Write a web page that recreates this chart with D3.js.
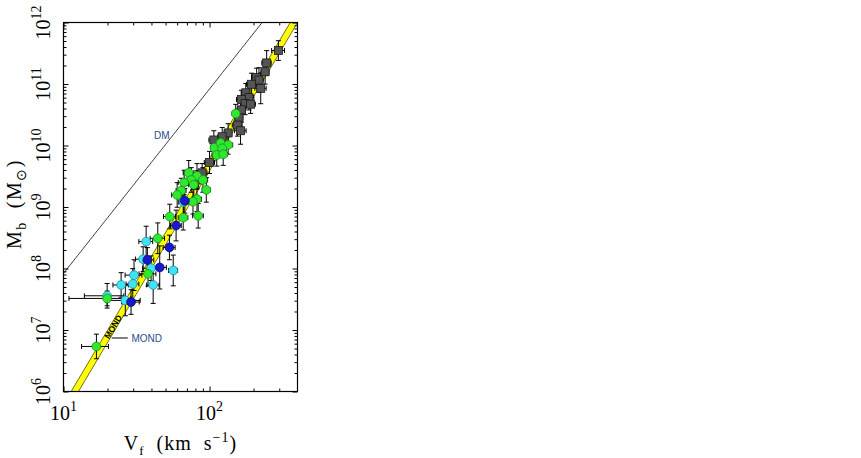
<!DOCTYPE html>
<html>
<head>
<meta charset="utf-8">
<script src="https://cdn.jsdelivr.net/npm/d3@7"></script>
<style>
html,body{margin:0;padding:0;background:#fff;}
svg{display:block;}
</style>
</head>
<body>
<svg id="chart" width="861" height="458"></svg>
<script>
// ---------- data ----------
const xMajorTicks = [10, 100];
const xTickExp = ["1", "2"];
const yMajorTicks = [1e6, 1e7, 1e8, 1e9, 1e10, 1e11, 1e12];
const yTickExp = ["6", "7", "8", "9", "10", "11", "12"];

// grey squares
const sqV   = [296,246,240,210,218,194,224,177,186,165,175,191,165,159,155,134,122,163,107,100,89,82];
const sqM   = [3.5e11,2.2e11,1.58e11,1.28e11,1.16e11,9.9e10,8.5e10,7.2e10,6.0e10,5.6e10,4.8e10,4.7e10,3.8e10,2.8e10,2.15e10,1.6e10,1.39e10,1.74e10,1.23e10,5.3e9,3.6e9,2.75e9];
const sqEV  = [30,18,15,15,15,15,20,12,15,12,12,15,10,10,12,8,8,15,8,8,7,6];
const sqEM  = [0.16,0.2,0.2,0.15,0.2,0.18,0.25,0.15,0.2,0.15,0.18,0.15,0.2,0.15,0.18,0.15,0.15,0.22,0.15,0.18,0.15,0.15];

// green circles
const grV  = [151,108,119,134,122,112,124,72,82,75,90,67,78,64,60,95,82,77,53.4,66,83.6,44.2,37.9,19.9,16.8];
const grM  = [3.3e10,9.2e9,1.1e10,1.02e10,9.0e9,7.0e9,7.2e9,3.6e9,3.2e9,2.75e9,2.75e9,2.5e9,2.3e9,1.85e9,1.57e9,1.9e9,1.34e9,1.22e9,7.0e8,6.7e8,7.2e8,3.1e8,8.2e7,3.26e7,5.4e6];
const grEV = [8,6,8,10,8,8,8,6,6,6,7,6,6,5,5,6,6,6,5,5,7,5,5,9,3.5];
const grEM = [0.15,0.15,0.15,0.15,0.15,0.18,0.18,0.2,0.2,0.2,0.2,0.2,0.2,0.2,0.2,0.2,0.2,0.2,0.2,0.2,0.2,0.25,0.2,0.12,0.2];

// cyan circles
const cyV  = [66.5,36.8,35.1,39.8,56.4,30.4,24.8,29.8,41.1,19.9,26.5];
const cyM  = [1.2e9,2.74e8,1.42e8,1.01e8,9.3e7,7.8e7,5.4e7,5.6e7,5.4e7,3.6e7,3.03e7];
const cyEV = [5,4,4,5,4,4,3,3,4,6,7];
const cyEM = [0.2,0.25,0.2,0.2,0.25,0.25,0.2,0.25,0.3,0.2,0.25];

// blue circles
const blV  = [67.7,59,53.1,37.5,45.6,29];
const blM  = [1.26e9,5.0e8,2.2e8,1.38e8,1.04e8,2.85e7];
const blEV = [5,5,5,4,5,4];
const blEM = [0.2,0.25,0.2,0.2,0.35,0.2];

// model relations: log M = slope*log V + intercept
const dmSlope = 3, dmIntercept = 4.92;
const mondSlope = 4, mondIntercept = 1.69, mondHalfWidth = 0.1;

// ---------- layout ----------
const svg = d3.select("#chart");
const L = 63.5, R = 297.5, T = 22.5, B = 391.5;
const x = d3.scaleLog().domain([10, 400]).range([L, R]);
const y = d3.scaleLog().domain([1e6, 1e12]).range([B, T]);

svg.append("defs").append("clipPath").attr("id","clip")
  .append("rect").attr("x",L).attr("y",T).attr("width",R-L).attr("height",B-T);

const plot = svg.append("g").attr("clip-path","url(#clip)");

// DM line
const vLine = d3.range(0, 201).map(i => Math.pow(10, 1 + i*(Math.log10(400)-1)/200));
plot.append("path")
  .attr("d", d3.line().x(v => x(v)).y(v => y(Math.pow(10, dmSlope*Math.log10(v)+dmIntercept)))(vLine))
  .attr("fill","none").attr("stroke","#000").attr("stroke-width",0.8);

// MOND band
const bandUpper = vLine.map(v => [x(v), y(Math.pow(10, mondSlope*Math.log10(v)+mondIntercept+mondHalfWidth))]);
const bandLower = vLine.map(v => [x(v), y(Math.pow(10, mondSlope*Math.log10(v)+mondIntercept-mondHalfWidth))]).reverse();
plot.append("path")
  .attr("d", d3.line()(bandUpper.concat(bandLower)) + "Z")
  .attr("fill","#ffff00").attr("stroke","#2a2a00").attr("stroke-width",0.7);

// text inside band
{
  const vT = Math.pow(10, 1.34);
  const mT = Math.pow(10, mondSlope*Math.log10(vT)+mondIntercept);
  const a2 = Math.atan((y(1)-y(1e4))/(x(100)-x(10))) * 180/Math.PI;
  plot.append("text")
    .attr("transform", `translate(${x(vT)},${y(mT)}) rotate(${-a2})`)
    .attr("text-anchor","middle").attr("dy","0.35em")
    .attr("font-family","Liberation Sans, Arial, sans-serif")
    .attr("font-size",8.5).attr("font-weight","bold").attr("fill","#000")
    .text("MOND");
}

// error bars
const groups = [
  {V:sqV, M:sqM, EV:sqEV, EM:sqEM, type:"square", fill:"#555555", stroke:"#1a1a1a"},
  {V:cyV, M:cyM, EV:cyEV, EM:cyEM, type:"circle", fill:"#3fe3f3", stroke:"#1790a0"},
  {V:grV, M:grM, EV:grEV, EM:grEM, type:"circle", fill:"#2fe82f", stroke:"#169616"},
  {V:blV, M:blM, EV:blEV, EM:blEM, type:"circle", fill:"#1818cc", stroke:"#08087a"}
];
const eb = plot.append("g").attr("stroke","#000").attr("stroke-width",1).attr("fill","none");
const cap = 2.5;
groups.forEach(g => {
  g.V.forEach((v, i) => {
    const m = g.M[i], ev = g.EV[i], em = g.EM[i];
    const px = x(v), py = y(m);
    const y1 = y(m*Math.pow(10,-em)), y2 = y(m*Math.pow(10,em));
    const x1 = x(v-ev), x2 = x(v+ev);
    eb.append("line").attr("x1",px).attr("x2",px).attr("y1",y1).attr("y2",y2);
    eb.append("line").attr("x1",px-cap).attr("x2",px+cap).attr("y1",y1).attr("y2",y1);
    eb.append("line").attr("x1",px-cap).attr("x2",px+cap).attr("y1",y2).attr("y2",y2);
    eb.append("line").attr("x1",x1).attr("x2",x2).attr("y1",py).attr("y2",py);
    eb.append("line").attr("x1",x1).attr("x2",x1).attr("y1",py-cap).attr("y2",py+cap);
    eb.append("line").attr("x1",x2).attr("x2",x2).attr("y1",py-cap).attr("y2",py+cap);
  });
});

// markers
groups.forEach(g => {
  const data = g.V.map((v,i) => ({v, m:g.M[i]}));
  if (g.type === "square") {
    plot.append("g").selectAll("rect").data(data).join("rect")
      .attr("x", d => x(d.v)-4).attr("y", d => y(d.m)-4)
      .attr("width",8).attr("height",8)
      .attr("fill",g.fill).attr("stroke",g.stroke).attr("stroke-width",0.8);
  } else {
    plot.append("g").selectAll("circle").data(data).join("circle")
      .attr("cx", d => x(d.v)).attr("cy", d => y(d.m)).attr("r",4.4)
      .attr("fill",g.fill).attr("stroke",g.stroke).attr("stroke-width",0.8);
  }
});

// ---------- axes ----------
const xMinor = [20,30,40,50,60,70,80,90,200,300];
const yMinor = [];
for (let e = 6; e < 12; e++) for (let k = 2; k <= 9; k++) yMinor.push(k*Math.pow(10,e));

function addAxis(axisFn, scale, vals, size, transform) {
  const g = svg.append("g").attr("transform", transform)
    .call(axisFn(scale).tickValues(vals).tickSize(-size).tickFormat(""));
  g.select(".domain").remove();
  g.selectAll("line").attr("stroke","#000").attr("stroke-width",1);
}
addAxis(d3.axisBottom, x, xMajorTicks, 5, `translate(0,${B})`);
addAxis(d3.axisBottom, x, xMinor, 3, `translate(0,${B})`);
addAxis(d3.axisTop, x, xMajorTicks, 5, `translate(0,${T})`);
addAxis(d3.axisTop, x, xMinor, 3, `translate(0,${T})`);
addAxis(d3.axisLeft, y, yMajorTicks, 5, `translate(${L},0)`);
addAxis(d3.axisLeft, y, yMinor, 3, `translate(${L},0)`);
addAxis(d3.axisRight, y, yMajorTicks, 5, `translate(${R},0)`);
addAxis(d3.axisRight, y, yMinor, 3, `translate(${R},0)`);

svg.append("rect").attr("x",L).attr("y",T).attr("width",R-L).attr("height",B-T)
  .attr("fill","none").attr("stroke","#000").attr("stroke-width",1.2);

const serif = "Liberation Serif, Times New Roman, serif";

// x tick labels
xMajorTicks.forEach((t,i) => {
  const tx = svg.append("text").attr("x", x(t)).attr("y", 420)
    .attr("text-anchor","middle").attr("font-family",serif).attr("font-size",20).attr("fill","#000");
  tx.append("tspan").text("10");
  tx.append("tspan").attr("dy",-9).attr("font-size",14).text(xTickExp[i]);
});

// y tick labels (rotated)
yMajorTicks.forEach((t,i) => {
  const ty = svg.append("text")
    .attr("transform", `translate(50,${y(t)}) rotate(-90)`)
    .attr("text-anchor","middle").attr("font-family",serif).attr("font-size",20).attr("fill","#000");
  ty.append("tspan").text("10");
  ty.append("tspan").attr("dy",-9).attr("font-size",14).text(yTickExp[i]);
});

// x title
{
  const t = svg.append("text").attr("x",(L+R)/2).attr("y",450)
    .attr("text-anchor","middle").attr("font-family",serif).attr("font-size",20).attr("fill","#000")
    .attr("letter-spacing",1).attr("xml:space","preserve");
  t.append("tspan").text("V");
  t.append("tspan").attr("dy",5).attr("font-size",13).text("f");
  t.append("tspan").attr("dy",-5).text("  (km  s");
  t.append("tspan").attr("dy",-8).attr("font-size",14).text("−1");
  t.append("tspan").attr("dy",8).text(")");
}
// y title
{
  const t = svg.append("text").attr("transform",`translate(21,${(T+B)/2 - 3}) rotate(-90)`)
    .attr("text-anchor","middle").attr("font-family",serif).attr("font-size",20).attr("fill","#000")
    .attr("letter-spacing",1.5).attr("xml:space","preserve");
  t.append("tspan").text("M");
  t.append("tspan").attr("dy",5).attr("font-size",14).text("b");
  t.append("tspan").attr("dy",-5).text("  (M");
  t.append("tspan").attr("dy",5).attr("font-size",14).text("⊙");
  t.append("tspan").attr("dy",-5).text(")");
}

// annotations
const labelColor = "#2a4b8d";
svg.append("text").attr("x", x(Math.pow(10,1.62))).attr("y", y(Math.pow(10,10.1)))
  .attr("font-family","Liberation Sans, Arial, sans-serif").attr("font-size",10).attr("fill",labelColor)
  .text("DM");
svg.append("line")
  .attr("x1", x(Math.pow(10,1.33))).attr("x2", x(Math.pow(10,1.44)))
  .attr("y1", y(Math.pow(10,6.87))).attr("y2", y(Math.pow(10,6.87)))
  .attr("stroke","#000").attr("stroke-width",1);
svg.append("text").attr("x", x(Math.pow(10,1.465))).attr("y", y(Math.pow(10,6.87))+4)
  .attr("font-family","Liberation Sans, Arial, sans-serif").attr("font-size",10).attr("fill",labelColor)
  .text("MOND");
</script>
</body>
</html>
